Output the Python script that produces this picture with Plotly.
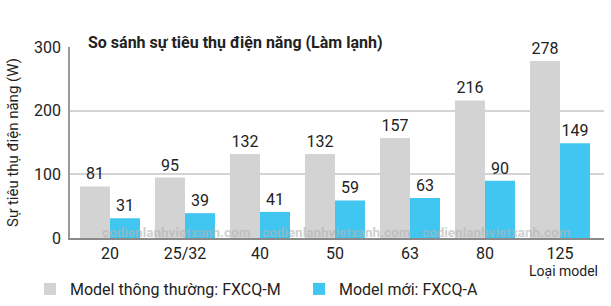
import plotly.graph_objects as go

categories = ["20", "25/32", "40", "50", "63", "80", "125"]
old_values = [81, 95, 132, 132, 157, 216, 278]
new_values = [31, 39, 41, 59, 63, 90, 149]
old_name = "Model thông thường: FXCQ-M"
new_name = "Model mới: FXCQ-A"
y_ticks = [0, 100, 200, 300]

W, H = 611, 306
L, R, T, B = 70, 7, 47, 68
PW = W - L - R
PH = H - T - B

def px_x(px):
    return (px - L) / PW

def px_y(py):
    return (H - B - py) / PH

FONT = "Roboto"
TXT = "#222222"

fig = go.Figure()
fig.add_trace(go.Bar(
    x=categories, y=old_values, name=old_name,
    marker=dict(color="#d3d3d3", line=dict(width=0)),
    text=old_values, textposition="outside",
    textfont=dict(size=16, color=TXT, family=FONT),
    cliponaxis=False, legend="legend",
))
fig.add_trace(go.Bar(
    x=categories, y=new_values, name=new_name,
    marker=dict(color="#40c6f1", line=dict(width=0)),
    text=new_values, textposition="outside",
    textfont=dict(size=16, color=TXT, family=FONT),
    cliponaxis=False, legend="legend2",
))

annotations = []
for xp in [100, 260, 420]:
    annotations.append(dict(
        text="codienlanhvietxanh.com", xref="paper", yref="paper",
        x=px_x(xp), y=px_y(232), xanchor="left", yanchor="middle",
        showarrow=False,
        font=dict(size=13.5, color="rgba(180,180,180,0.65)", family=FONT, weight="bold"),
    ))
annotations.append(dict(
    text="Loại model", xref="paper", yref="paper",
    x=px_x(563), y=px_y(271), xanchor="center", yanchor="middle",
    showarrow=False, font=dict(size=14, color=TXT, family=FONT),
))

fig.update_layout(
    width=W, height=H,
    margin=dict(l=L, r=R, t=T, b=B, autoexpand=False),
    paper_bgcolor="white", plot_bgcolor="white",
    barmode="group", bargap=0.2, bargroupgap=0,
    font=dict(family=FONT, color=TXT),
    title=dict(
        text="<b>So sánh sự tiêu thụ điện năng (Làm lạnh)</b>",
        x=88 / W, xanchor="left", y=1 - 42 / H, yanchor="middle",
        font=dict(size=16, color=TXT, family=FONT),
    ),
    xaxis=dict(
        range=[-0.533, 6.587], showgrid=False, ticks="",
        showline=True, linecolor="#8a8a8a", linewidth=1.5,
        tickfont=dict(size=16, color=TXT, family=FONT),
    ),
    yaxis=dict(
        range=[0, 300], tickvals=y_ticks, showgrid=True,
        gridcolor="#d4d4d4", gridwidth=1.5, zeroline=False,
        showline=True, linecolor="#9a9a9a", linewidth=1.5, ticks="",
        ticklabelstandoff=4,
        tickfont=dict(size=16, color=TXT, family=FONT),
        title=dict(text="Sự tiêu thụ điện năng (W)", standoff=12,
                   font=dict(size=15, color=TXT, family=FONT)),
    ),
    showlegend=True,
    legend=dict(
        orientation="h", xref="container", yref="container",
        x=30 / W, y=1 - 289 / H, xanchor="left", yanchor="middle",
        itemwidth=30,
        font=dict(size=16, color=TXT, family=FONT), bgcolor="rgba(0,0,0,0)",
    ),
    legend2=dict(
        orientation="h", xref="container", yref="container",
        x=299 / W, y=1 - 289 / H, xanchor="left", yanchor="middle",
        itemwidth=30,
        font=dict(size=16, color=TXT, family=FONT), bgcolor="rgba(0,0,0,0)",
    ),
    annotations=annotations,
)

fig.write_html("out.html")
